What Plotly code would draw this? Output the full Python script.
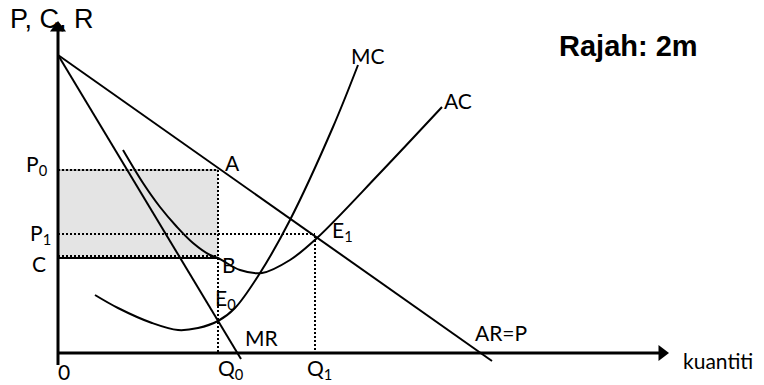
import plotly.graph_objects as go

# ---- data (quantity, cost/price units) ----
ar_x = [0.0, 43.4]
ar_y = [29.8, -0.8]
mr_x = [0.0, 18.3]
mr_y = [29.8, -0.6]
mc_x = [3.7, 6.0, 9.4, 12.0, 14.0, 16.0, 17.7, 20.2, 23.2, 27.5, 30.0]
mc_y = [5.8, 4.5, 3.0, 2.3, 2.5, 3.2, 4.5, 8.0, 13.3, 22.6, 28.8]
ac_x = [6.5, 8.5, 10.2, 11.9, 13.5, 15.2, 16.0, 18.2, 20.4, 23.2, 25.9, 32.2, 38.4]
ac_y = [20.3, 17.0, 14.6, 12.6, 11.0, 9.8, 9.5, 8.3, 8.0, 9.3, 11.5, 18.0, 24.6]
Q0, Q1 = 16.0, 25.7
P0, P1, C = 18.3, 11.9, 9.5
E1_y = 11.7
x_end, y_end = 61.2, 33.3

BLACK = "#000000"
LBL = "Lato"
fig = go.Figure()

def line(xs, ys, width=2, dash=None, color=BLACK, shape="linear"):
    fig.add_trace(go.Scatter(x=xs, y=ys, mode="lines", hoverinfo="skip",
                             line=dict(color=color, width=width, dash=dash, shape=shape)))

# shaded rectangle
fig.add_trace(go.Scatter(x=[0, Q0, Q0, 0, 0], y=[C, C, P0, P0, C], mode="lines",
                         fill="toself", fillcolor="#e4e4e4", line=dict(width=0), hoverinfo="skip"))
line([0, Q0], [P0, P0], width=1, color="#777777")
line([0, Q0], [P0, P0], width=2, dash="2px,2px")
line([0, Q0], [C, C], width=2)
line([0, Q0], [C + 0.2, C + 0.2], width=2, dash="2px,2px")
line([Q0, Q0], [P0, 0], width=2, dash="2px,2px")
line([0, Q1], [P1, P1], width=2, dash="2px,2px")
line([Q1, Q1], [E1_y, 0], width=2, dash="2px,2px")

# curves
line(ar_x, ar_y, width=2)
line(mr_x, mr_y, width=2)
line(mc_x, mc_y, width=2, shape="spline")
line(ac_x, ac_y, width=2, shape="spline")

# axes
line([0, 0], [-1.2, y_end - 1.0], width=3)
line([0, x_end - 1.0], [0, 0], width=3)
fig.add_trace(go.Scatter(x=[0], y=[y_end - 0.8], mode="markers", hoverinfo="skip",
                         marker=dict(symbol="triangle-up", size=14, color=BLACK)))
fig.add_trace(go.Scatter(x=[x_end - 0.8], y=[0], mode="markers", hoverinfo="skip",
                         marker=dict(symbol="triangle-right", size=14, color=BLACK)))

def label(text, x, y, size=21, family=LBL, xanchor="left", bold=False):
    fig.add_annotation(x=x, y=y, text=(f"<b>{text}</b>" if bold else text), showarrow=False,
                       xanchor=xanchor, yanchor="middle",
                       font=dict(family=family, size=size, color=BLACK))

label("P, C, R", -0.6, 33.4, size=27, family="Liberation Sans, Arial", xanchor="center")
label("Rajah: 2m", 49.9, 30.7, size=29, family="Liberation Sans, Arial", bold=True)
label("P<sub>0</sub>", -0.8, 18.8, xanchor="right")
label("P<sub>1</sub>", -0.5, 11.9, xanchor="right")
label("C", -1.0, 9.0, xanchor="right")
label("0", 0.6, -1.8, xanchor="center")
label("Q<sub>0</sub>", 15.8, -1.6)
label("Q<sub>1</sub>", 24.7, -1.6)
label("MR", 20.3, 1.6, xanchor="center")
label("E<sub>0</sub>", 15.5, 5.4)
label("A", 16.5, 19.1)
label("B", 16.2, 8.9)
label("E<sub>1</sub>", 27.2, 12.2)
label("MC", 29.1, 29.8)
label("AC", 38.4, 25.3)
label("AR=P", 41.5, 2.1)
label("kuantiti", 62.3, -0.7)

fig.update_layout(width=764, height=385, margin=dict(l=0, r=0, t=0, b=0),
                  paper_bgcolor="white", plot_bgcolor="white", showlegend=False,
                  xaxis=dict(range=[-5.8, 70.6], visible=False, fixedrange=True),
                  yaxis=dict(range=[-3.2, 35.3], visible=False, fixedrange=True))
fig.write_html("out.html", config={"displayModeBar": False},
               post_script="document.body.style.margin='0';document.body.style.overflow='hidden';")
